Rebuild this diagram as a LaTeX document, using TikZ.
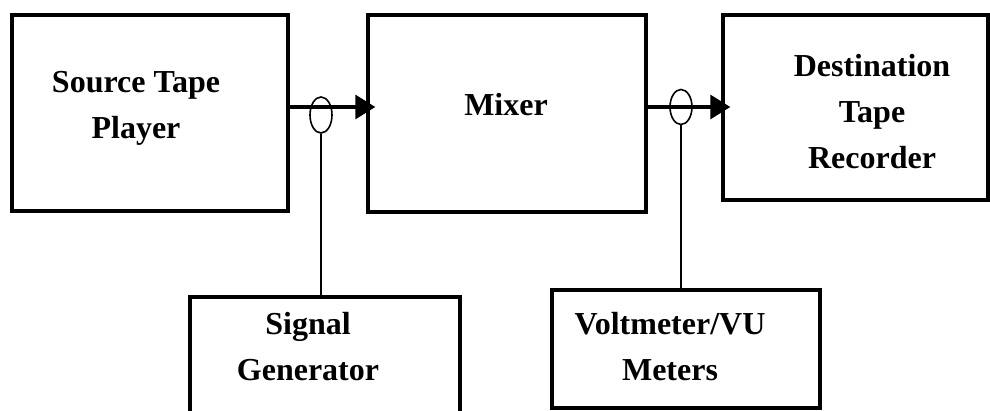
\documentclass[tikz,border=0pt]{standalone}
\usepackage{fontspec}
\setmainfont{Liberation Serif}
\usetikzlibrary{arrows.meta,shapes.geometric}
\begin{document}
\begin{tikzpicture}[x=1pt,y=-1pt,
  box/.style={draw, line width=3.4pt, inner sep=0pt, rectangle},
  lbl/.style={font=\bfseries\fontsize{32}{46}\selectfont, align=center, inner sep=0pt},
  arr/.style={line width=3.2pt, -{Triangle[length=20pt,width=24pt]}, shorten >=-9pt},
  probe/.style={draw, ellipse, line width=1.6pt, inner sep=0pt, minimum width=22pt},
  thin/.style={line width=1.1pt}]
\useasboundingbox (0,0) rectangle (990,411);
\clip (0,0) rectangle (990,411);
% boxes
\node[box, minimum width=276pt, minimum height=196pt] (src) at (150,113) {};
\node[box, minimum width=278pt, minimum height=197pt] (mix) at (507,113.5) {};
\node[box, minimum width=265pt, minimum height=185pt] (dst) at (855.5,107.5) {};
\node[box, minimum width=270pt, minimum height=120pt] (sig) at (325,357) {};
\node[box, minimum width=268pt, minimum height=118pt] (vu) at (686,349) {};
% labels
\node[lbl] (srct) at (136,108) {Source Tape\\Player};
\node[lbl] (mixt) at (506,105) {Mixer};
\node[lbl] (dstt) at (872,112) {Destination\\Tape\\Recorder};
\node[lbl] (sigt) at (308,347) {Signal\\Generator};
\node[lbl] (vut) at (670,347) {Voltmeter/VU\\Meters};
% probes
\node[probe, minimum height=36pt] (p1) at (321,115) {};
\node[probe, minimum height=35pt] (p2) at (681,107) {};
\coordinate (lvl) at (0,107);
% connectors
\draw[arr] (src.east |- lvl) -- (mix.west |- lvl);
\draw[arr] (mix.east |- lvl) -- (dst.west |- lvl);
\draw[thin] (p1.south) -- (p1.south |- sig.north);
\draw[thin] (p2.south) -- (p2.south |- vu.north);
\end{tikzpicture}
\end{document}
